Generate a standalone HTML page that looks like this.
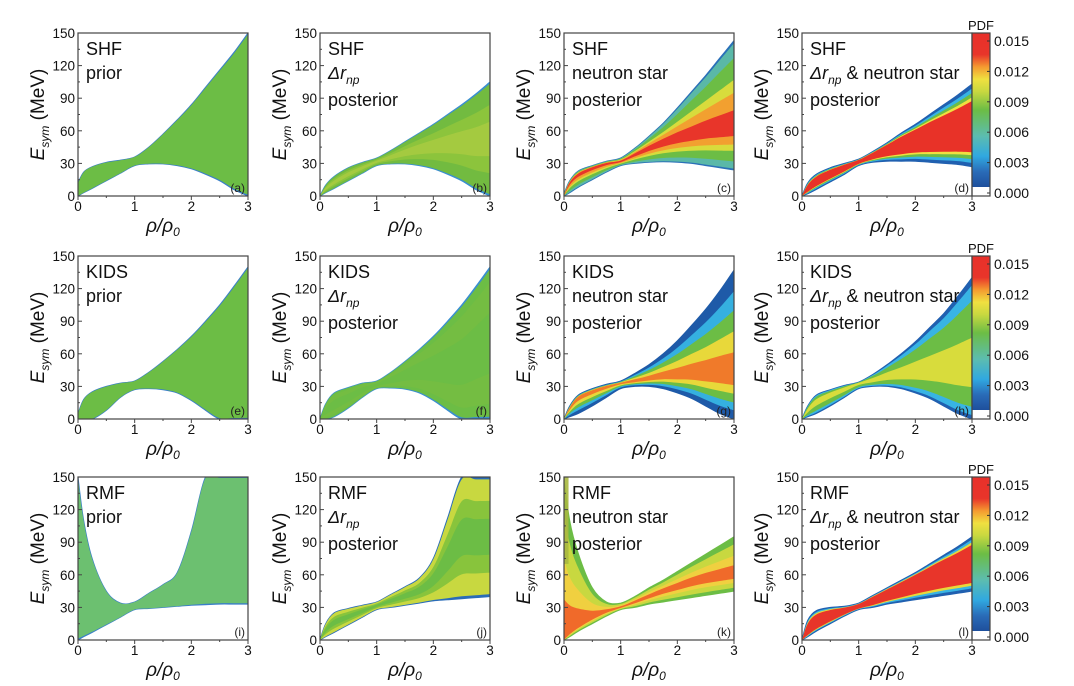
<!DOCTYPE html>
<html><head><meta charset="utf-8"><style>
body{margin:0;background:#fff;}
svg{display:block;font-family:"Liberation Sans",Arial,sans-serif;}
</style></head><body>
<svg id="fig" width="1074" height="686" viewBox="0 0 1074 686" xmlns="http://www.w3.org/2000/svg"></svg>
<script>
// ---- data ----
const xGrid = [0,0.1,0.25,0.5,0.75,1,1.25,1.5,1.75,2,2.25,2.5,2.75,3];
const yTicks = [0,30,60,90,120,150];
const xTicks = [0,1,2,3];
const cbTicks = ["0.000","0.003","0.006","0.009","0.012","0.015"];
// upper / lower / center (MeV) per panel
const upA=[12,22,27,31,33,36,45,57,70,84,100,116,132,150], loA=[0,3,7,14,21,28,29.5,29.5,28,25,20,14,6,0];
const upB=[0,10,18,26,31,35,42,50,58,66,75,84,94,105], loB=loA;
const upC=[2,14,23,28,32,35,44,55,67,81,96,111,127,143], loC=[0,3,8,15,22,28,30,31,31.5,31,30,28,26,24], ceC=[0,12,20,26,30,32,38,44,49,53,56,59,61,63];
const upD=[0,12,20,26,30,34,41,49,58,66,75,84,93,103], loD=[0,2,6,13,20,28,31,32,32,32,31,30,29,27], ceD=[0,7,14,21,27,32,38,44,49,53,56,58,60,62];
const upE=[5,18,25,30,33,35,43,53,64,76,90,105,122,140], loE=[0,0,0,8,20,27,28,27,24,17,8,0,0,0];
const upF=[0,14,24,29,33,35,43,53,64,76,90,105,122,140], loF=[0,0,2,10,20,28,28.5,27.5,24,17,8,0,0,0];
const upG=[0,12,22,28,32,35,42,50,60,72,86,101,118,137], loG=[0,2,5,12,20,28,30,30,28,24,19,12,5,0], ceG=[0,10,20,26,30,33,35,37,39,40,41,41,41,40];
const upH=[0,12,22,27,31,34,41,50,60,71,84,97,113,130], loH=[0,2,5,12,20,28,30,30,28,24,19,12,5,0], ceH=[0,8,16,23,28,33,36,39,41,43,44,45,45,45];
const upI=[150,110,75,45,34,35,43,51,62,100,150,150,150,150], loI=[0,3,7,14,21,28,29,30,31,32,32.5,33,33,33];
const upJ=[0,15,25,29,32,35,42,49,57,75,112,150,150,150], loJ=[0,3,7,14,21,28,30,32,34,36,37,38,39,40];
const upK=[150,110,80,48,35,34,40,48,55,63,71,79,87,95], loK=[0,3,8,15,22,28,30,33,35,37,39,41,43,45], ceK=[0,6,12,20,26,30,35,40,45,49,53,56,58,60];
const upL=[0,18,27,30,31,34,41,48,55,62,70,78,86,95], loL=[0,3,8,15,22,28,30,33,35,37,39,41,43,45], ceL=[0,8,15,22,27,31,37,43,49,55,60,64,67,70];

const panels=[
 {id:'a',m:'SHF',k:'prior',up:upA,lo:loA,fr:[1,0.985],col:['#3a7fc8','#6cbd45']},
 {id:'b',m:'SHF',k:'drnp',up:upB,lo:loB,fr:[1,0.97,0.6,0.3],col:['#3a8fd0','#72bb40','#8cc43c','#a4ca40']},
 {id:'c',m:'SHF',k:'ns',up:upC,lo:loC,ce:ceC,fr:[1,0.97,0.8,0.55,0.4,0.2],col:['#2a70b8','#5ab8a8','#6cbd45','#d8dc3c','#f2a030','#e8352a']},
 {id:'d',m:'SHF',k:'both',up:upD,lo:loD,ce:ceD,fr:[1,0.9,0.8,0.7,0.62],col:['#2060b0','#38b4e4','#6cbd45','#f0e040','#e83228'],cb:true},
 {id:'e',m:'KIDS',k:'prior',up:upE,lo:loE,fr:[1,0.985],col:['#3a7fc8','#6cbd45']},
 {id:'f',m:'KIDS',k:'drnp',up:upF,lo:loF,fr:[1,0.97,0.8,0.4],col:['#3a8fd0','#6cbd45','#74bd42','#6cbd45']},
 {id:'g',m:'KIDS',k:'ns',up:upG,lo:loG,ce:ceG,fr:[1,0.8,0.62,0.42,0.22],col:['#1e5aa8','#35b0e0','#6cbd45','#e8d83a','#f07a2a']},
 {id:'h',m:'KIDS',k:'both',up:upH,lo:loH,ce:ceH,fr:[1,0.92,0.75,0.35],col:['#2060b0','#38b4e4','#6cbd45','#d8dc3c'],cb:true},
 {id:'i',m:'RMF',k:'prior',up:upI,lo:loI,fr:[1,0.985],col:['#3a7fc8','#6cc070']},
 {id:'j',m:'RMF',k:'drnp',up:upJ,lo:loJ,fr:[1,0.96,0.6,0.3],col:['#2a6cb8','#c8d840','#88c43c','#6cbd45']},
 {id:'k',m:'RMF',k:'ns',up:upK,lo:loK,ce:ceK,fr:[1,0.8,0.5,0.25],col:['#6cbd45','#c8d840','#f0d040','#f06a2a']},
 {id:'l',m:'RMF',k:'both',up:upL,lo:loL,ce:ceL,fr:[1,0.9,0.8,0.7],col:['#2060b0','#38b4e4','#e8d83a','#e8352a'],cb:true}
];
const lefts=[78,320,564,802], tops=[33,256,477], W=170, H=163;
const NS='http://www.w3.org/2000/svg';
const svg=document.getElementById('fig');
function mk(t,a,p){const e=document.createElementNS(NS,t);for(const k in a)e.setAttribute(k,a[k]);(p||svg).appendChild(e);return e;}
function smooth(pts){let d='M'+pts[0][0].toFixed(1)+','+pts[0][1].toFixed(1);
 for(let i=0;i<pts.length-1;i++){const p0=pts[Math.max(i-1,0)],p1=pts[i],p2=pts[i+1],p3=pts[Math.min(i+2,pts.length-1)];
  const c1=[p1[0]+(p2[0]-p0[0])/6,p1[1]+(p2[1]-p0[1])/6],c2=[p2[0]-(p3[0]-p1[0])/6,p2[1]-(p3[1]-p1[1])/6];
  d+='C'+c1[0].toFixed(1)+','+c1[1].toFixed(1)+' '+c2[0].toFixed(1)+','+c2[1].toFixed(1)+' '+p2[0].toFixed(1)+','+p2[1].toFixed(1);}
 return d;}
const defs=mk('defs',{});
const g0=mk('linearGradient',{id:'jet',x1:0,y1:1,x2:0,y2:0},defs);
[[0,'#1e4f9c'],[0.1,'#2a6cb8'],[0.2,'#30a8e0'],[0.33,'#5cbdb0'],[0.5,'#6cbd45'],[0.62,'#c8d840'],[0.7,'#f0e040'],[0.78,'#f49a30'],[0.86,'#e8352a'],[1,'#e8302a']].forEach(s=>mk('stop',{offset:s[0],'stop-color':s[1]},g0));

panels.forEach((p,i)=>{
 const L=lefts[i%4],T=tops[Math.floor(i/4)];
 const xS=v=>L+v/3*W, yS=v=>T+H-v/150*H;
 const g=mk('g',{});
 
 
 const cp=mk('clipPath',{id:'cp'+p.id},defs);mk('rect',{x:L,y:T,width:W,height:H},cp);
 const band=mk('g',{'clip-path':'url(#cp'+p.id+')'},g);
 
 
 const ce=p.ce||p.up.map((u,j)=>(u+p.lo[j])/2);
 p.fr.forEach((f,li)=>{
  const hi=xGrid.map((x,j)=>[xS(x),yS(ce[j]+f*(p.up[j]-ce[j]))]);
  const lo=xGrid.map((x,j)=>[xS(x),yS(ce[j]-f*(ce[j]-p.lo[j]))]).reverse();
  const d=smooth(hi)+'L'+smooth(lo).slice(1)+'Z';
  const e=mk('path',{d:d,fill:p.col[li],stroke:li==0?p.col[0]:'none','stroke-width':li==0?1:0},band);
  
  
 });
 if(p.id==='k'){const s=mk('rect',{x:xS(0.0),y:yS(150),width:xS(0.08)-xS(0),height:yS(70)-yS(150),fill:'#a8b840',opacity:0.9},band);
  }
 const fr=mk('rect',{x:L,y:T,width:W,height:H,fill:'none',stroke:'#444','stroke-width':1.2},g);
 
 yTicks.forEach(v=>{mk('line',{x1:L,x2:L+4,y1:yS(v),y2:yS(v),stroke:'#444'},g);
  if(v<150)mk('line',{x1:L,x2:L+2,y1:yS(v+15),y2:yS(v+15),stroke:'#444'},g);
  const t=mk('text',{x:L-3,y:yS(v)+5,'text-anchor':'end','font-size':13.5,fill:'#111'},g);t.textContent=v;
  });
 xTicks.forEach(v=>{mk('line',{x1:xS(v),x2:xS(v),y1:T+H,y2:T+H+4,stroke:'#444'},g);
  if(v<3)mk('line',{x1:xS(v+0.5),x2:xS(v+0.5),y1:T+H,y2:T+H+2,stroke:'#444'},g);
  const t=mk('text',{x:xS(v),y:T+H+15,'text-anchor':'middle','font-size':13.5,fill:'#111'},g);t.textContent=v;
  });
 const yt=mk('text',{transform:`translate(${L-34},${T+H/2}) rotate(-90)`,'text-anchor':'middle','font-size':19,fill:'#111'},g);
 yt.innerHTML='<tspan font-style="italic">E</tspan><tspan font-style="italic" font-size="12" dy="5">sym</tspan><tspan dy="-5"> (MeV)</tspan>';
 
 const xt=mk('text',{x:L+W/2,y:T+H+36,'text-anchor':'middle','font-size':19,fill:'#111','font-style':'italic'},g);
 xt.innerHTML='ρ/ρ<tspan font-size="12" dy="4">0</tspan>';
 
 const lab=mk('text',{x:L+8,y:T+22,'font-size':18,fill:'#111'},g);lab.textContent=p.m;
 
 let lines=[];
 if(p.k==='prior')lines=['prior'];
 else if(p.k==='drnp')lines=['<tspan font-style="italic">Δr</tspan><tspan font-style="italic" font-size="12" dy="5">np</tspan>','posterior'];
 else if(p.k==='ns')lines=['neutron star','posterior'];
 else lines=['<tspan font-style="italic">Δr</tspan><tspan font-style="italic" font-size="12" dy="5">np</tspan><tspan dy="-5"> &amp; neutron star</tspan>','posterior'];
 lines.forEach((s,li)=>{const t=mk('text',{x:L+8,y:T+46+li*27,'font-size':18,fill:'#111'},g);t.innerHTML=s;
  });
 const pl=mk('text',{x:L+W-3,y:T+H-4,'text-anchor':'end','font-size':12,fill:'#222'},g);pl.textContent='('+p.id+')';
 
 if(p.cb){
  const cx=L+W,cw=18;
  const cb=mk('g',{},g);
  mk('rect',{x:cx,y:T,width:cw,height:H-9,fill:'url(#jet)'},cb);
  mk('rect',{x:cx,y:T,width:cw,height:H,fill:'none',stroke:'#444','stroke-width':1.2},cb);
  const pt=mk('text',{x:cx+cw/2,y:T-3,'text-anchor':'middle','font-size':13,fill:'#111'},cb);pt.textContent='PDF';
  
  cbTicks.forEach((s,ti)=>{const yy=T+H-3-ti*(H-11)/5;
   mk('line',{x1:cx+cw-3,x2:cx+cw,y1:yy,y2:yy,stroke:'#333'},cb);
   const t=mk('text',{x:cx+cw+4,y:yy+5,'font-size':14,fill:'#111'},cb);t.textContent=s;
   });
 }
});
</script>
</body></html>
